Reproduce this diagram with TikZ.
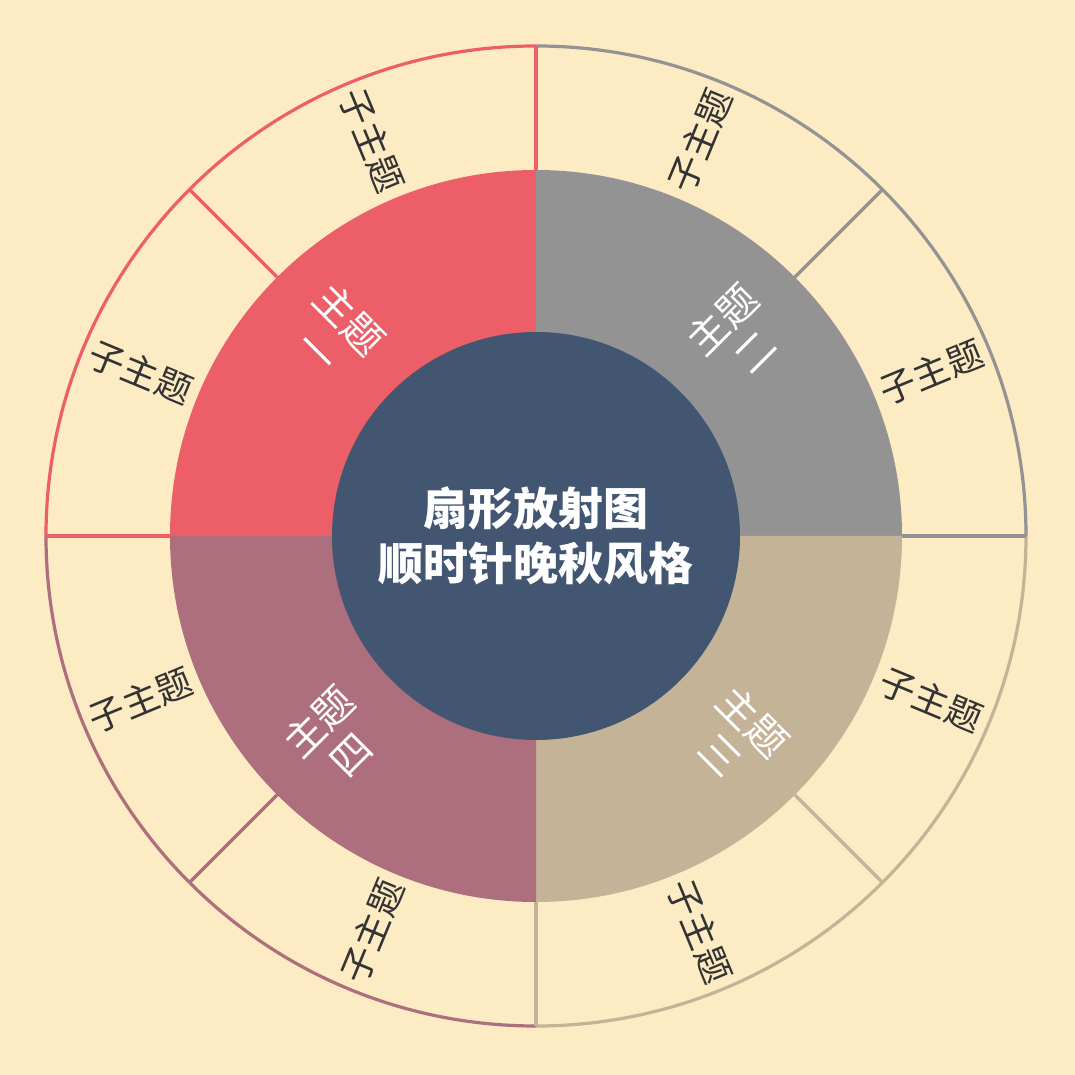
\documentclass[tikz,border=0pt]{standalone}
\usepackage{fontspec}
\newfontfamily\cjk{Noto Sans CJK SC}
\definecolor{bg}{HTML}{FDEBC4}
\definecolor{cred}{HTML}{EC5F68}
\definecolor{cgray}{HTML}{939393}
\definecolor{ctan}{HTML}{C4B396}
\definecolor{cmauve}{HTML}{AD6F7D}
\definecolor{cblue}{HTML}{425672}
\definecolor{ctext}{HTML}{333333}
\tikzset{
  ring/.style={line width=3.2pt},
  mainlbl/.style={text=white,font=\cjk\fontsize{40}{46}\selectfont,align=center,inner sep=0pt},
  sublbl/.style={text=ctext,font=\cjk\fontsize{36}{40}\selectfont,inner sep=0pt},
  centerlbl/.style={text=white,font=\cjk\bfseries\fontsize{45}{55}\selectfont,align=center,inner sep=0pt}
}
\begin{document}
\begin{tikzpicture}
\useasboundingbox[fill=bg] (-536pt,-539pt) rectangle (539pt,536pt);
% quadrant sectors
\fill[cred] (0,0) -- (90:366pt) arc[start angle=90,end angle=180,radius=366pt] -- cycle;
\fill[cgray] (0,0) -- (0:366pt) arc[start angle=0,end angle=90,radius=366pt] -- cycle;
\fill[ctan] (0,0) -- (-90:366pt) arc[start angle=-90,end angle=0,radius=366pt] -- cycle;
\fill[cmauve] (0,0) -- (180:366pt) arc[start angle=180,end angle=270,radius=366pt] -- cycle;
% outer arcs
\draw[ring,cred] (90:490pt) arc[start angle=90,end angle=180,radius=490pt];
\draw[ring,cgray] (0:490pt) arc[start angle=0,end angle=90,radius=490pt];
\draw[ring,ctan] (-90:490pt) arc[start angle=-90,end angle=0,radius=490pt];
\draw[ring,cmauve] (180:490pt) arc[start angle=180,end angle=270,radius=490pt];
% radial lines
\draw[ring,cred] (90:366pt) -- (90:490pt);
\draw[ring,cred] (135:366pt) -- (135:490pt);
\draw[ring,cred] (180:366pt) -- (180:490pt);
\draw[ring,cgray] (45:366pt) -- (45:490pt);
\draw[ring,cgray] (0:366pt) -- (0:490pt);
\draw[ring,ctan] (-45:366pt) -- (-45:490pt);
\draw[ring,ctan] (-90:366pt) -- (-90:490pt);
\draw[ring,cmauve] (-135:366pt) -- (-135:490pt);
% center
\fill[cblue] (0,0) circle[radius=204pt];
\node[centerlbl] (c) at (0,0) {扇形放射图\\顺时针晚秋风格};
% main labels
\node[mainlbl,rotate=-45] (m1) at (135:285pt) {主题\\一};
\node[mainlbl,rotate=45] (m2) at (45:285pt) {主题\\二};
\node[mainlbl,rotate=-45] (m3) at (-45:285pt) {主题\\三};
\node[mainlbl,rotate=45] (m4) at (-135:285pt) {主题\\四};
% sub labels
\node[sublbl,rotate=-67.5] (s1) at (112.5:428pt) {子主题};
\node[sublbl,rotate=-22.5] (s2) at (157.5:428pt) {子主题};
\node[sublbl,rotate=67.5] (s3) at (67.5:428pt) {子主题};
\node[sublbl,rotate=22.5] (s4) at (22.5:428pt) {子主题};
\node[sublbl,rotate=-22.5] (s5) at (-22.5:428pt) {子主题};
\node[sublbl,rotate=-67.5] (s6) at (-67.5:428pt) {子主题};
\node[sublbl,rotate=22.5] (s7) at (-157.5:428pt) {子主题};
\node[sublbl,rotate=67.5] (s8) at (-112.5:428pt) {子主题};
\end{tikzpicture}
\end{document}
